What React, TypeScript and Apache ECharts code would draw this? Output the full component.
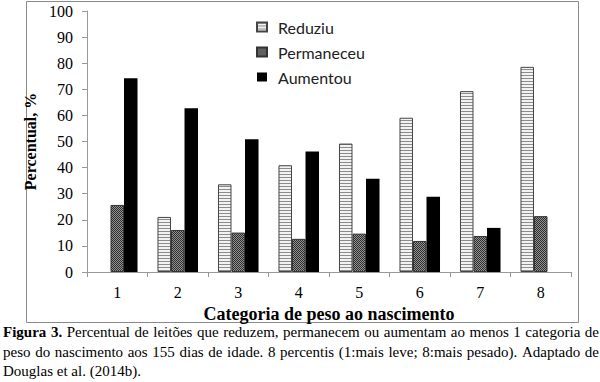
import React, { useEffect, useRef } from "react";
import * as echarts from "echarts";

const categories = ["1", "2", "3", "4", "5", "6", "7", "8"];
const reduziu = [null, 21.1, 33.6, 40.9, 49.2, 59.1, 69.3, 78.6];
const permaneceu = [25.7, 16.1, 15.1, 12.7, 14.7, 11.9, 13.8, 21.4];
const aumentou = [74.2, 62.7, 50.9, 46.2, 35.7, 28.8, 16.9, null];
const seriesNames = ["Reduziu", "Permaneceu", "Aumentou"];
const yTicks = { min: 0, max: 100, interval: 10 };

const captionLines = [
  { bold: "Figura 3.", text: "Percentual de leitões que reduzem, permanecem ou aumentam ao menos 1 categoria de", justify: true },
  { bold: "", text: "peso do nascimento aos 155 dias de idade. 8 percentis (1:mais leve; 8:mais pesado). Adaptado de", justify: true },
  { bold: "", text: "Douglas et al. (2014b).", justify: false },
];

const SERIF = "Liberation Serif";
const SANS = "Lato";
const CAPTION_SIZE = 15;

function buildCaption(): any[] {
  const canvas = document.createElement("canvas");
  const ctx = canvas.getContext("2d")!;
  const left = 3;
  const right = 599;
  const ys = [332, 352, 371];
  const els: any[] = [];
  captionLines.forEach((line, li) => {
    const words: { t: string; bold: boolean; w: number }[] = [];
    if (line.bold) {
      line.bold.split(" ").forEach((t) => {
        ctx.font = `bold ${CAPTION_SIZE}px ${SERIF}`;
        words.push({ t, bold: true, w: ctx.measureText(t).width });
      });
    }
    line.text.split(" ").forEach((t) => {
      ctx.font = `${CAPTION_SIZE}px ${SERIF}`;
      words.push({ t, bold: false, w: ctx.measureText(t).width });
    });
    ctx.font = `${CAPTION_SIZE}px ${SERIF}`;
    const spaceW = ctx.measureText(" ").width;
    const total = words.reduce((s, w) => s + w.w, 0);
    const gap = line.justify && words.length > 1 ? (right - left - total) / (words.length - 1) : spaceW;
    let x = left;
    words.forEach((w) => {
      els.push({
        type: "text",
        x,
        y: ys[li],
        silent: true,
        style: {
          text: w.t,
          fontFamily: SERIF,
          fontSize: CAPTION_SIZE,
          fontWeight: w.bold ? "bold" : "normal",
          fill: "#000",
          align: "left",
          verticalAlign: "middle",
        },
      });
      x += w.w + gap;
    });
  });
  return els;
}

function makePattern(w: number, h: number, cells: string[][]): HTMLCanvasElement {
  const c = document.createElement("canvas");
  c.width = w;
  c.height = h;
  const ctx = c.getContext("2d")!;
  for (let y = 0; y < h; y++) {
    for (let x = 0; x < w; x++) {
      ctx.fillStyle = cells[y][x];
      ctx.fillRect(x, y, 1, 1);
    }
  }
  return c;
}

export default function App() {
  const ref = useRef<HTMLDivElement>(null);
  useEffect(() => {
    if (!ref.current) return;
    const chart = echarts.init(ref.current, null, { renderer: "svg" });
    const stripe = makePattern(2, 3, [
      ["#8c8c8c", "#8c8c8c"],
      ["#f2f2f2", "#f2f2f2"],
      ["#f2f2f2", "#f2f2f2"],
    ]);
    const checker = makePattern(2, 2, [
      ["#2e2e2e", "#929292"],
      ["#929292", "#2e2e2e"],
    ]);
    const barBase = { type: "bar", barGap: "0%", barCategoryGap: "33%" };
    chart.setOption({
      animation: false,
      backgroundColor: "#fff",
      grid: { left: 87, right: 29, top: 11, bottom: 110, containLabel: false },
      legend: {
        data: seriesNames,
        orient: "vertical",
        left: 251,
        top: 14,
        itemWidth: 10,
        itemHeight: 9,
        itemGap: 9,
        icon: "rect",
        textStyle: { fontFamily: SANS, fontSize: 16, color: "#222", padding: [0, 0, 0, 6] },
      },
      xAxis: {
        type: "category",
        data: categories,
        name: "Categoria de peso ao nascimento",
        nameLocation: "middle",
        nameGap: 32,
        nameTextStyle: { fontFamily: SERIF, fontWeight: "bold", fontSize: 18, color: "#000" },
        axisLine: { lineStyle: { color: "#999", width: 1 } },
        axisTick: { show: true, length: 5, lineStyle: { color: "#999" } },
        axisLabel: { fontFamily: SERIF, fontSize: 16, color: "#000", margin: 12 },
      },
      yAxis: {
        type: "value",
        min: yTicks.min,
        max: yTicks.max,
        interval: yTicks.interval,
        name: "Percentual, %",
        nameLocation: "middle",
        nameGap: 33,
        nameRotate: 90,
        nameTextStyle: { fontFamily: SERIF, fontWeight: "bold", fontSize: 16, color: "#000" },
        axisLine: { show: true, lineStyle: { color: "#999", width: 1 } },
        axisTick: { show: true, length: 5, lineStyle: { color: "#999" } },
        splitLine: { show: false },
        axisLabel: { fontFamily: SERIF, fontSize: 16, color: "#000", margin: 14 },
      },
      series: [
        {
          ...barBase,
          name: seriesNames[0],
          data: reduziu,
          itemStyle: {
            color: { image: stripe, repeat: "repeat" },
            borderColor: "#444",
            borderWidth: 1,
          },
        },
        {
          ...barBase,
          name: seriesNames[1],
          data: permaneceu,
          itemStyle: {
            color: { image: checker, repeat: "repeat" },
            borderColor: "#333",
            borderWidth: 1,
          },
        },
        {
          ...barBase,
          name: seriesNames[2],
          data: aumentou,
          itemStyle: { color: "#000" },
        },
      ],
      graphic: [
        {
          type: "rect",
          silent: true,
          z: -1,
          shape: { x: 26.5, y: 1.5, width: 552, height: 321 },
          style: { fill: "none", stroke: "#8a8a8a", lineWidth: 1 },
        },
        ...buildCaption(),
      ],
    });
    return () => chart.dispose();
  }, []);
  return (
    <div
      ref={ref}
      style={{ position: "absolute", left: 0, top: 0, width: 600, height: 382, background: "#fff" }}
    />
  );
}
